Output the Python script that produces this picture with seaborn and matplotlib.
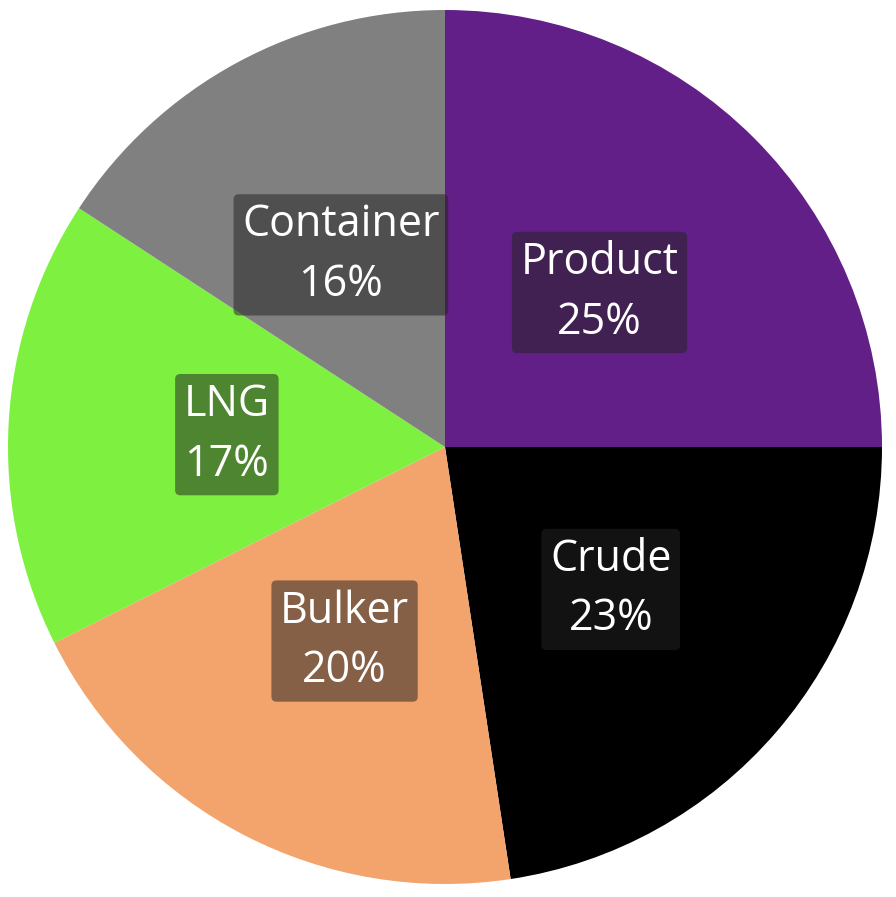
import matplotlib
matplotlib.use('Agg')
import matplotlib.pyplot as plt
import seaborn as sns

# vessel segment shares (percent of total)
segments = ['Product', 'Crude', 'Bulker', 'LNG', 'Container']
shares = [25.0, 22.6, 20.0, 16.6, 15.8]
colors = ['#621f87', '#000000', '#f3a46c', '#7ef040', '#808080']

sns.set_style("white")
plt.rcParams['font.family'] = ['Open Sans', 'DejaVu Sans']

fig = plt.figure(figsize=(8.96, 8.97), dpi=100)
ax = fig.add_axes([8 / 896, 13 / 897, 874 / 896, 874 / 897])

total = sum(shares)
labels = [f'{s}\n{round(v / total * 100):.0f}%' for s, v in zip(segments, shares)]

wedges, texts = ax.pie(shares, labels=labels, colors=colors, startangle=90,
                       counterclock=False, labeldistance=0.5, radius=1,
                       wedgeprops=dict(linewidth=0),
                       textprops=dict(color='white', fontsize=31, linespacing=1.45))
for t in texts:
    t.set_ha('center')
    t.set_va('center')
    t.set_bbox(dict(boxstyle='round,pad=0.2,rounding_size=0.12',
                    fc=(35 / 255, 35 / 255, 35 / 255, 0.52), ec='none'))

ax.set_xlim(-1, 1)
ax.set_ylim(-1, 1)
ax.set_aspect('equal')
ax.axis('off')

fig.savefig('out.png', dpi=100, facecolor='white')
